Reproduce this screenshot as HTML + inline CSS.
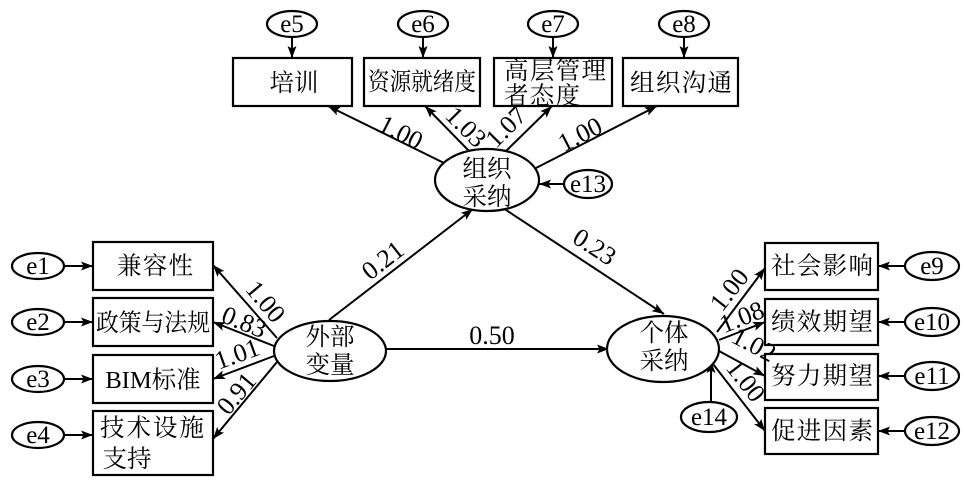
<!DOCTYPE html>
<html><head><meta charset="utf-8"><style>
html,body{margin:0;padding:0;background:#fff;width:964px;height:501px;overflow:hidden}
svg{display:block}
text{font-family:"Liberation Serif","Noto Serif CJK SC",serif;fill:#000;text-anchor:middle}
.c text{font-size:24.5px}
.l text{font-size:26px}
.e text{font-size:25px}
rect,ellipse{fill:#fff;stroke:#000;stroke-width:2.2}
line{stroke:#000;stroke-width:2}
</style></head><body>
<svg width="964" height="501" viewBox="0 0 964 501" xmlns="http://www.w3.org/2000/svg">
<defs><marker id="a" markerWidth="13" markerHeight="12" refX="12" refY="6" orient="auto" markerUnits="userSpaceOnUse"><path d="M0 1.5L12 6L0 10.5L2.5 6Z" fill="#000"/></marker></defs>

<!-- connectors -->
<line x1="64" y1="266" x2="93" y2="266" marker-end="url(#a)"/>
<line x1="64" y1="322" x2="93" y2="322" marker-end="url(#a)"/>
<line x1="64" y1="379" x2="93" y2="379" marker-end="url(#a)"/>
<line x1="64" y1="435" x2="93" y2="435" marker-end="url(#a)"/>
<line x1="292" y1="36" x2="292" y2="58" marker-end="url(#a)"/>
<line x1="423" y1="36" x2="423" y2="58" marker-end="url(#a)"/>
<line x1="553" y1="36" x2="553" y2="58" marker-end="url(#a)"/>
<line x1="684" y1="36" x2="684" y2="58" marker-end="url(#a)"/>
<line x1="905" y1="266" x2="878" y2="266" marker-end="url(#a)"/>
<line x1="905" y1="322" x2="878" y2="322" marker-end="url(#a)"/>
<line x1="905" y1="376" x2="878" y2="376" marker-end="url(#a)"/>
<line x1="905" y1="431" x2="878" y2="431" marker-end="url(#a)"/>
<line x1="564" y1="184" x2="539" y2="184" marker-end="url(#a)"/>
<line x1="711" y1="402" x2="711" y2="361" marker-end="url(#a)"/>
<line x1="444" y1="163" x2="328" y2="106" marker-end="url(#a)"/>
<line x1="470" y1="152" x2="425" y2="106" marker-end="url(#a)"/>
<line x1="505" y1="152" x2="552" y2="106" marker-end="url(#a)"/>
<line x1="536" y1="168" x2="657" y2="106" marker-end="url(#a)"/>
<line x1="329" y1="320" x2="473" y2="209" marker-end="url(#a)"/>
<line x1="503" y1="208" x2="664" y2="314" marker-end="url(#a)"/>
<line x1="386" y1="349" x2="609" y2="349" marker-end="url(#a)"/>
<line x1="277" y1="338" x2="213" y2="265" marker-end="url(#a)"/>
<line x1="274" y1="346" x2="213" y2="322" marker-end="url(#a)"/>
<line x1="274" y1="356" x2="213" y2="379" marker-end="url(#a)"/>
<line x1="277" y1="362" x2="213" y2="439" marker-end="url(#a)"/>
<line x1="717" y1="332" x2="765" y2="268" marker-end="url(#a)"/>
<line x1="719" y1="340" x2="765" y2="322" marker-end="url(#a)"/>
<line x1="719" y1="351" x2="765" y2="376" marker-end="url(#a)"/>
<line x1="713" y1="364" x2="765" y2="431" marker-end="url(#a)"/>

<!-- rects -->
<rect x="93" y="242" width="120" height="48"/>
<rect x="93" y="298" width="120" height="48"/>
<rect x="93" y="355" width="120" height="48"/>
<rect x="93" y="411" width="120" height="64"/>
<rect x="233" y="58" width="119" height="48"/>
<rect x="364" y="58" width="116" height="48"/>
<rect x="494" y="58" width="118" height="48"/>
<rect x="623" y="58" width="115" height="48"/>
<rect x="765" y="243" width="113" height="47"/>
<rect x="765" y="299" width="113" height="46"/>
<rect x="765" y="354" width="113" height="46"/>
<rect x="765" y="408" width="113" height="46"/>

<!-- ellipses -->
<ellipse cx="38" cy="266" rx="26" ry="13"/>
<ellipse cx="38" cy="322" rx="26" ry="13"/>
<ellipse cx="38" cy="379" rx="26" ry="13"/>
<ellipse cx="38" cy="435" rx="26" ry="13"/>
<ellipse cx="292" cy="24" rx="25" ry="13"/>
<ellipse cx="423" cy="24" rx="25" ry="13"/>
<ellipse cx="553" cy="24" rx="25" ry="13"/>
<ellipse cx="684" cy="24" rx="25" ry="13"/>
<ellipse cx="932" cy="266" rx="27" ry="14"/>
<ellipse cx="932" cy="322" rx="27" ry="14"/>
<ellipse cx="932" cy="376" rx="27" ry="14"/>
<ellipse cx="932" cy="431" rx="27" ry="14"/>
<ellipse cx="588" cy="184" rx="24" ry="14" stroke-width="3"/>
<ellipse cx="709" cy="417" rx="28" ry="15" stroke-width="3"/>
<ellipse cx="330" cy="351" rx="56" ry="30"/>
<ellipse cx="487" cy="180" rx="52" ry="31"/>
<ellipse cx="663" cy="349" rx="56" ry="33"/>

<!-- e labels -->
<g class="e">
<text x="38" y="274">e1</text><text x="38" y="330">e2</text><text x="38" y="387">e3</text><text x="38" y="443">e4</text>
<text x="292" y="32">e5</text><text x="423" y="32">e6</text><text x="553" y="32">e7</text><text x="684" y="32">e8</text>
<text x="932" y="274">e9</text><text x="932" y="330">e10</text><text x="932" y="384">e11</text><text x="932" y="439">e12</text>
<text x="588" y="192">e13</text><text x="709" y="425">e14</text>
</g>

<!-- box labels -->
<g class="c">
<text x="294" y="91">培训</text>
<text x="422" y="90" textLength="108" lengthAdjust="spacingAndGlyphs">资源就绪度</text>
<text x="555" y="79" textLength="102" lengthAdjust="spacing">高层管理</text>
<text x="542" y="104" textLength="76" lengthAdjust="spacing">者态度</text>
<text x="681" y="91" textLength="102" lengthAdjust="spacing">组织沟通</text>
<text x="155" y="274" textLength="76" lengthAdjust="spacing">兼容性</text>
<text x="153" y="331" textLength="114" lengthAdjust="spacingAndGlyphs">政策与法规</text>
<text x="153" y="388">BIM标准</text>
<text x="152" y="436" textLength="104" lengthAdjust="spacing">技术设施</text>
<text x="127" y="467">支持</text>
<text x="822" y="274" textLength="102" lengthAdjust="spacing">社会影响</text>
<text x="822" y="330" textLength="102" lengthAdjust="spacing">绩效期望</text>
<text x="822" y="384" textLength="102" lengthAdjust="spacing">努力期望</text>
<text x="822" y="439" textLength="102" lengthAdjust="spacing">促进因素</text>
<text x="330" y="345">外部</text>
<text x="330" y="373">变量</text>
<text x="487" y="177">组织</text>
<text x="487" y="205">采纳</text>
<text x="664" y="341">个体</text>
<text x="664" y="369">采纳</text>
</g>

<!-- coefficients -->
<g class="l">
<text transform="translate(397,140) rotate(27)">1.00</text>
<text transform="translate(460,133) rotate(45)">1.03</text>
<text transform="translate(512,133) rotate(-45)">1.07</text>
<text transform="translate(584,142) rotate(-27)">1.00</text>
<text transform="translate(388,267) rotate(-38)">0.21</text>
<text transform="translate(590,254) rotate(33)">0.23</text>
<text x="492" y="344">0.50</text>
<text transform="translate(259,307) rotate(50)">1.00</text>
<text transform="translate(241,330) rotate(22)">0.83</text>
<text transform="translate(240,362) rotate(-20)">1.01</text>
<text transform="translate(243,399) rotate(-50)">0.91</text>
<text transform="translate(736,295) rotate(-52)">1.00</text>
<text transform="translate(745,325) rotate(-22)">1.08</text>
<text transform="translate(750,352) rotate(28)">1.02</text>
<text transform="translate(739,386) rotate(52)">1.00</text>
</g>
</svg>
</body></html>
